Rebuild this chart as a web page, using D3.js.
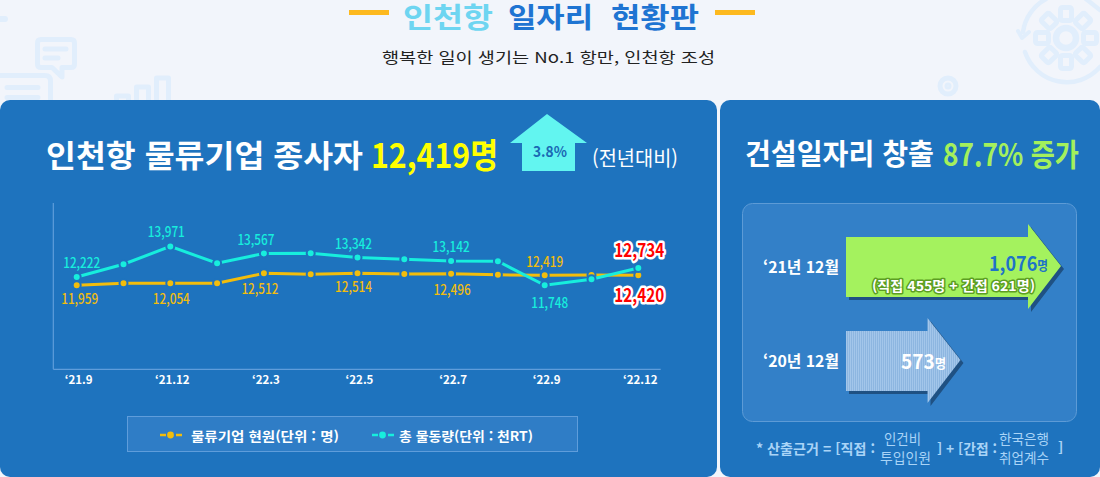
<!DOCTYPE html>
<html lang="ko">
<head>
<meta charset="utf-8">
<style>
html, body { margin: 0; padding: 0; background: #f2f5fb; overflow: hidden; }
svg { display: block; }
text { font-family: "Noto Sans CJK KR", "Noto Sans", sans-serif; }
</style>
</head>
<body>
<svg class="chart"></svg>
<script src="https://cdn.jsdelivr.net/npm/d3@7"></script>
<script>
var width = 1100, height = 477;

// line chart data
var months = ["‘21.9", "‘21.10", "‘21.12", "‘22.1", "‘22.3", "‘22.4", "‘22.5", "‘22.6", "‘22.7", "‘22.8", "‘22.9", "‘22.10", "‘22.12"];
var monthTicks = ["‘21.9", "‘21.12", "‘22.3", "‘22.5", "‘22.7", "‘22.9", "‘22.12"];
var workers = [11959, 12051, 12054, 12051, 12512, 12466, 12514, 12480, 12496, 12440, 12419, 12430, 12420];
var cargo = [12222, 12950, 13971, 13007, 13567, 13579, 13342, 13236, 13142, 13121, 11748, 12093, 12734];
var workerLabels = ["‘21.9", "‘21.12", "‘22.3", "‘22.5", "‘22.7", "‘22.9", "‘22.12"];
var cargoLabels = ["‘21.9", "‘21.12", "‘22.3", "‘22.5", "‘22.7", "‘22.9", "‘22.12"];
var legendNames = ["물류기업 현원(단위 : 명)", "총 물동량(단위 : 천RT)"];

// construction jobs arrows
var jobYears = ["‘21년 12월", "‘20년 12월"];
var jobValues = [1076, 573];

var blue = "#1e73be", yellow = "#f2bd0c", teal = "#17eedd";

var chart = d3.select(".chart")
    .attr("width", width)
    .attr("height", height);

// helper, text with a fixed width so the narrow look of the original comes out
function label(parent, str, x, y, size, weight, fill, len, anchor) {
  var t = parent.append("text")
      .attr("x", x)
      .attr("y", y)
      .attr("dominant-baseline", "central")
      .attr("text-anchor", anchor || "start")
      .attr("font-size", size)
      .attr("font-weight", weight)
      .attr("fill", fill)
      .text(str);
  if (len) t.attr("textLength", len).attr("lengthAdjust", "spacingAndGlyphs");
  return t;
}

// striped fill of the smaller arrow
var pattern = chart.append("defs").append("pattern")
    .attr("id", "stripes")
    .attr("width", 2)
    .attr("height", 2)
    .attr("patternUnits", "userSpaceOnUse");
pattern.append("rect").attr("width", 2).attr("height", 2).attr("fill", "#8db6e0");
pattern.append("rect").attr("width", 1).attr("height", 2).attr("fill", "#a3c6ea");

// background icons
var icons = chart.append("g")
    .attr("fill", "none")
    .attr("stroke", "#e1eefc")
    .attr("stroke-width", 5)
    .attr("stroke-linecap", "round")
    .attr("stroke-linejoin", "round");
icons.append("path").attr("d", "M37.5 43 Q37.5 39.5 41 39.5 H71 Q74.5 39.5 74.5 43 V64 Q74.5 67.5 71 67.5 H62 V77 L52 67.5 H41 Q37.5 67.5 37.5 64 Z");
icons.append("path").attr("d", "M45 49 H66 M45 58 H58");
icons.append("path").attr("d", "M0 75.5 H45 Q50.5 75.5 50.5 81 V100 M7 87.5 H38 M7 97.5 H38");
icons.append("path").attr("d", "M116.5 100 V96 H128.5 V100 M136.5 100 V87 H148.5 V100 M156.5 100 V78 H168.5 V100");
icons.append("path").attr("d", "M0 19 H5").attr("stroke-width", 6);
icons.append("circle").attr("cx", 948).attr("cy", 86).attr("r", 8).attr("stroke-width", 5);
icons.append("circle").attr("cx", 948).attr("cy", 86).attr("r", 2).attr("stroke-width", 3);
icons.append("path").attr("d", "M1025 52 A44 44 0 0 0 1100 67").attr("stroke-width", 4.5);
icons.append("path").attr("d", "M1023 32 A44 44 0 0 1 1046 -1").attr("stroke-width", 4.5);
icons.append("path").attr("d", "M1086 -1 L1100 10").attr("stroke-width", 4.5);
icons.append("path").attr("d", "M1018 31 L1022 38 L1029 32").attr("stroke-width", 4);
icons.append("circle").attr("cx", 1066).attr("cy", 38).attr("r", 10).attr("stroke-width", 6.5);
d3.range(8).forEach(function(i) {
  icons.append("rect")
      .attr("x", 1060.5).attr("y", 7.5)
      .attr("width", 11).attr("height", 13).attr("rx", 2)
      .attr("transform", "rotate(" + (i * 45) + " 1066 38)");
});

// page header
chart.append("rect").attr("x", 349).attr("y", 10).attr("width", 40).attr("height", 5).attr("fill", "#fdb91f");
chart.append("rect").attr("x", 715).attr("y", 10).attr("width", 40).attr("height", 5).attr("fill", "#fdb91f");
label(chart, "인천항", 403, 16, 28, 700, "#6ed5f1", 90);
label(chart, "일자리", 508, 16, 28, 700, "#1e74d2", 85);
label(chart, "현황판", 611, 16, 28, 700, "#1e74d2", 88);
label(chart, "행복한 일이 생기는 No.1 항만, 인천항 조성", 382, 56, 15, 400, "#222", 333);

// panels
chart.append("rect").attr("x", 0).attr("y", 100).attr("width", 717).attr("height", 377).attr("rx", 10).attr("fill", blue);
chart.append("rect").attr("x", 720).attr("y", 100).attr("width", 380).attr("height", 377).attr("rx", 10).attr("fill", blue);

// left panel title
label(chart, "인천항 물류기업 종사자", 46, 153, 31, 700, "#fff", 317);
label(chart, "12,419명", 371, 153, 34, 700, "#ffff00", 127);
chart.append("path")
    .attr("d", "M547 114 L587 143 H575 V171 H522 V143 H510 Z")
    .attr("fill", "#62f5f0");
label(chart, "3.8%", 533, 150, 15, 700, "#1a69b4", 34);
label(chart, "(전년대비)", 592, 157, 20, 400, "#fff", 86);

// line chart scales, each series has its own y range
var x_scale = d3.scalePoint()
    .domain(months)
    .range([76.7, 638.3]);

var y_workers = d3.scaleLinear()
    .domain([8088, 15752])
    .range([369.3, 203]);

var y_cargo = d3.scaleLinear()
    .domain([6950, 16450])
    .range([369.3, 203]);

var x_axis = d3.axisBottom(x_scale)
    .tickValues(monthTicks)
    .tickSize(0)
    .tickPadding(7);

var y_axis = d3.axisLeft(y_cargo)
    .tickValues([])
    .tickSize(0);

var axisColor = "#5f9ddb";

var gx = chart.append("g")
    .attr("transform", "translate(0,369.3)")
    .call(x_axis);
gx.select(".domain").remove();
gx.append("line").attr("x1", 53.3).attr("x2", 660.7).attr("stroke", axisColor).attr("stroke-width", 1.2);
gx.selectAll(".tick text")
    .attr("fill", "#fff")
    .attr("dx", 1.5)
    .attr("font-size", 11.5)
    .attr("font-weight", 700)
    .attr("font-family", '"Noto Sans CJK KR", sans-serif');

var gy = chart.append("g")
    .attr("transform", "translate(53.3,0)")
    .call(y_axis);
gy.select(".domain").remove();
gy.append("line").attr("y1", 203).attr("y2", 369.3).attr("stroke", axisColor).attr("stroke-width", 1.2);

function drawSeries(values, y_scale, color) {
  var line = d3.line()
      .x(function(d, i) { return x_scale(months[i]); })
      .y(function(d) { return y_scale(d); });
  chart.append("path")
      .datum(values)
      .attr("d", line)
      .attr("fill", "none")
      .attr("stroke", color)
      .attr("stroke-width", 3);
  chart.append("g").selectAll("circle")
      .data(values)
      .join("circle")
      .attr("cx", function(d, i) { return x_scale(months[i]); })
      .attr("cy", function(d) { return y_scale(d); })
      .attr("r", 4)
      .attr("fill", color)
      .attr("stroke", blue)
      .attr("stroke-width", 2);
}

drawSeries(workers, y_workers, yellow);
drawSeries(cargo, y_cargo, teal);

// value labels, dx/dy are offsets from the point
var workerOffsets = [[3, 13], [1, 15], [-4, 15], [-4, 13], [1, 15], [0, -14]];
var cargoOffsets = [[5, -15], [-4, -15], [-8, -14], [-4, -14], [0, -15], [5, 17]];

function drawLabels(names, values, y_scale, offsets, color) {
  names.slice(0, 6).forEach(function(m, i) {
    var v = values[months.indexOf(m)];
    label(chart, d3.format(",")(v), x_scale(m) + offsets[i][0], y_scale(v) + offsets[i][1], 14, 500, color, 37, "middle");
  });
}
drawLabels(workerLabels, workers, y_workers, workerOffsets, yellow);
drawLabels(cargoLabels, cargo, y_cargo, cargoOffsets, teal);

// last points get the red outlined labels
function redLabel(v, y) {
  label(chart, d3.format(",")(v), x_scale("‘22.12") + 1, y, 18, 700, "#f00", 50, "middle")
      .attr("stroke", "#fff")
      .attr("stroke-width", 5)
      .attr("stroke-linejoin", "round")
      .attr("paint-order", "stroke");
}
redLabel(cargo[12], y_cargo(cargo[12]) - 19.5);
redLabel(workers[12], y_workers(workers[12]) + 18.5);

// legend
chart.append("rect")
    .attr("x", 127.5).attr("y", 416.5)
    .attr("width", 450).attr("height", 35)
    .attr("fill", "#2f7dc6")
    .attr("stroke", "#5f9ddb");
[[160, yellow, 191, 148], [372, teal, 399, 134]].forEach(function(d, i) {
  chart.append("line")
      .attr("x1", d[0]).attr("x2", d[0] + 22)
      .attr("y1", 435).attr("y2", 435)
      .attr("stroke", d[1])
      .attr("stroke-width", 2.6)
      .attr("stroke-dasharray", "6 10 6");
  chart.append("circle").attr("cx", d[0] + 10.5).attr("cy", 435).attr("r", 3.4).attr("fill", d[1]);
  label(chart, legendNames[i], d[2], 435, 13, 700, "#fff", d[3]);
});

// right panel
label(chart, "건설일자리 창출", 745, 152, 29, 700, "#fff", 189);
label(chart, "87.7% 증가", 943, 152, 31, 700, "#a4f05c", 136);

chart.append("rect")
    .attr("x", 742.5).attr("y", 203.5)
    .attr("width", 334).attr("height", 218)
    .attr("rx", 10)
    .attr("fill", "#3380c8")
    .attr("stroke", "#5d9bd6");

// arrow length follows the value
var arrow_scale = d3.scaleLinear()
    .domain([0, 1076])
    .range([0, 215]);

function arrowPath(len, top) {
  var left = 846, right = left + arrow_scale(len), neck = right - 33, mid = top + 30;
  return "M" + left + " " + top + " H" + neck + " V" + (mid - 43) + " L" + right + " " + (mid - 1) +
      " L" + neck + " " + (mid + 42) + " V" + (top + 60) + " H" + left + " Z";
}

var arrowTops = [237, 331];
var arrowFills = ["#a4f25e", "url(#stripes)"];
jobValues.forEach(function(v, i) {
  chart.append("path")
      .attr("d", arrowPath(v, arrowTops[i]))
      .attr("transform", "translate(3,3)")
      .attr("fill", "#1f5183");
  chart.append("path")
      .attr("d", arrowPath(v, arrowTops[i]))
      .attr("fill", arrowFills[i]);
  label(chart, jobYears[i], 763, arrowTops[i] + 29, 16, 700, "#fff", 76);
});

// number and its smaller unit sit in one text
function jobLabel(v, x, y, fill, len) {
  var t = label(chart, d3.format(",")(v), x, y, 20, 700, fill, len);
  t.append("tspan").attr("font-size", 13).attr("dy", 2).text("명");
}
jobLabel(jobValues[0], 989, 262, "#1e73c8", 59);
label(chart, "(직접 455명 + 간접 621명)", 872, 284.5, 13.5, 700, "#fff", 163)
    .attr("stroke", "#5c9e22")
    .attr("stroke-width", 3)
    .attr("stroke-linejoin", "round")
    .attr("paint-order", "stroke");
jobLabel(jobValues[1], 901, 360, "#fff", 45);

// footnote
var noteColor = "#a9d4f7";
label(chart, "* 산출근거 = [직접 :", 756, 448, 14, 700, noteColor, 119);
label(chart, "인건비", 884, 438, 14, 400, noteColor, 37);
label(chart, "투입인원", 880, 457, 14, 400, noteColor, 51);
label(chart, "] + [간접 :", 937, 448, 14, 700, noteColor, 60);
label(chart, "한국은행", 999, 438, 14, 400, noteColor, 50);
label(chart, "취업계수", 999, 457, 14, 400, noteColor, 50);
label(chart, "]", 1058, 447, 14, 700, noteColor);
</script>
</body>
</html>
